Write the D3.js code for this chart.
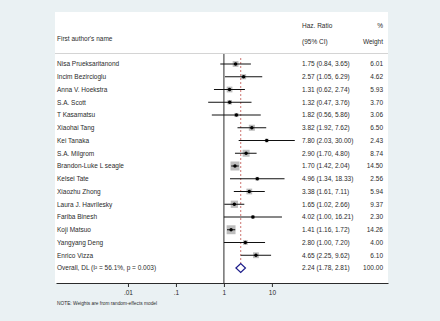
<!DOCTYPE html>
<html>
<head>
<meta charset="utf-8">
<script src="https://cdn.jsdelivr.net/npm/d3@7"></script>
<style>
  body { margin: 0; background: #eaf1f3; }
  svg { display: block; font-family: "Liberation Sans", Arial, sans-serif; }
</style>
</head>
<body>
<svg id="chart" width="440" height="321"></svg>
<script>
// study data
const authors = ["Nisa Prueksaritanond", "Incim Bezircioglu", "Anna V. Hoekstra", "S.A. Scott",
    "T Kasamatsu", "Xiaohai Tang", "Kei Tanaka", "S.A. Milgrom", "Brandon-Luke L seagle",
    "Kelsei Tate", "Xiaozhu Zhong", "Laura J. Havrilesky", "Fariba Binesh", "Koji Matsuo",
    "Yangyang Deng", "Enrico Vizza"];
const hr     = [1.75, 2.57, 1.31, 1.32, 1.82, 3.82, 7.80, 2.90, 1.70, 4.96, 3.38, 1.65, 4.02, 1.41, 2.80, 4.65];
const lower  = [0.84, 1.05, 0.62, 0.47, 0.56, 1.92, 2.03, 1.70, 1.42, 1.34, 1.61, 1.02, 1.00, 1.16, 1.00, 2.25];
const upper  = [3.65, 6.29, 2.74, 3.76, 5.86, 7.62, 30.00, 4.80, 2.04, 18.33, 7.11, 2.66, 16.21, 1.72, 7.20, 9.62];
const weight = [6.01, 4.62, 5.93, 3.70, 3.06, 6.50, 2.43, 8.74, 14.50, 2.56, 5.94, 9.37, 2.30, 14.26, 4.00, 6.10];

const overallLabel = "Overall, DL (I² = 56.1%, p = 0.003)";
const overall = { hr: 2.24, lo: 1.78, hi: 2.81, w: 100.00 };

const tickValues = [0.01, 0.1, 1, 10];
const tickLabels = [".01", ".1", "1", "10"];

const svg = d3.select("#chart");
const ink = "#2b2b2b";

const studies = authors.map(function(a, i){
    return { name: a, hr: hr[i], lo: lower[i], hi: upper[i], w: weight[i] };
});

const xScale = d3.scaleLog()
    .domain([Math.pow(10, -3.5), Math.pow(10, 3.42)])
    .range([56, 388]);

const yScale = d3.scalePoint()
    .domain(authors.concat([overallLabel]))
    .range([64, 268]);

const boxSize = d3.scaleSqrt().domain([0, 14.5]).range([0, 9]);

// white plot panel
svg.append("rect")
    .attr("x", 55).attr("y", 12)
    .attr("width", 333).attr("height", 271)
    .attr("fill", "#fff");

// headers
const hdr = svg.append("g").attr("fill", ink).attr("font-size", 6.5);
hdr.append("text").attr("x", 57).attr("y", 40.5).text("First author's name");
hdr.append("text").attr("x", 302).attr("y", 27.5).text("Haz. Ratio");
hdr.append("text").attr("x", 302).attr("y", 43.5).text("(95% CI)");
hdr.append("text").attr("x", 383).attr("y", 27.5).attr("text-anchor", "end").text("%");
hdr.append("text").attr("x", 383).attr("y", 43.5).attr("text-anchor", "end").text("Weight");

svg.append("line")
    .attr("x1", 55).attr("x2", 388)
    .attr("y1", 53.5).attr("y2", 53.5)
    .attr("stroke", "#d4d4d4").attr("stroke-width", 1);

// null line at HR = 1
svg.append("line")
    .attr("x1", xScale(1)).attr("x2", xScale(1))
    .attr("y1", 54).attr("y2", 283)
    .attr("stroke", ink).attr("stroke-width", 1);

// dashed line at pooled estimate
svg.append("line")
    .attr("x1", xScale(overall.hr)).attr("x2", xScale(overall.hr))
    .attr("y1", 58).attr("y2", yScale(overallLabel) - 4.5)
    .attr("stroke", "#c0504d").attr("stroke-width", 0.8)
    .attr("stroke-dasharray", "2,2");

// weight boxes
svg.selectAll(".box")
    .data(studies)
    .enter()
    .append("rect")
    .attr("class", "box")
    .attr("x", function(d){ return xScale(d.hr) - boxSize(d.w) / 2 })
    .attr("y", function(d){ return yScale(d.name) - boxSize(d.w) / 2 })
    .attr("width", function(d){ return boxSize(d.w) })
    .attr("height", function(d){ return boxSize(d.w) })
    .attr("fill", "#bdbdbd");

// confidence intervals
svg.selectAll(".ci")
    .data(studies)
    .enter()
    .append("line")
    .attr("class", "ci")
    .attr("x1", function(d){ return xScale(d.lo) })
    .attr("x2", function(d){ return xScale(d.hi) })
    .attr("y1", function(d){ return yScale(d.name) })
    .attr("y2", function(d){ return yScale(d.name) })
    .attr("stroke", "#111").attr("stroke-width", 1);

// point estimates
svg.selectAll(".dot")
    .data(studies)
    .enter()
    .append("circle")
    .attr("class", "dot")
    .attr("cx", function(d){ return xScale(d.hr) })
    .attr("cy", function(d){ return yScale(d.name) })
    .attr("r", 1.7)
    .attr("fill", "#000");

// pooled diamond
const oy = yScale(overallLabel);
svg.append("path")
    .attr("d", "M" + xScale(overall.lo) + "," + oy +
               "L" + xScale(overall.hr) + "," + (oy - 4.5) +
               "L" + xScale(overall.hi) + "," + oy +
               "L" + xScale(overall.hr) + "," + (oy + 4.5) + "Z")
    .attr("fill", "#fff")
    .attr("stroke", "#1c1c8a").attr("stroke-width", 1.2);

// row texts
const rows = svg.append("g").attr("fill", ink).attr("font-size", 6.5);
const allRows = studies.concat([{ name: overallLabel, hr: overall.hr, lo: overall.lo, hi: overall.hi, w: overall.w }]);

rows.selectAll(".name")
    .data(allRows)
    .enter()
    .append("text")
    .attr("x", 57)
    .attr("y", function(d){ return yScale(d.name) })
    .attr("dy", "0.35em")
    .text(function(d){ return d.name });

rows.selectAll(".est")
    .data(allRows)
    .enter()
    .append("text")
    .attr("x", 302)
    .attr("y", function(d){ return yScale(d.name) })
    .attr("dy", "0.35em")
    .text(function(d){ return d.hr.toFixed(2) + " (" + d.lo.toFixed(2) + ", " + d.hi.toFixed(2) + ")" });

rows.selectAll(".wt")
    .data(allRows)
    .enter()
    .append("text")
    .attr("x", 383)
    .attr("y", function(d){ return yScale(d.name) })
    .attr("dy", "0.35em")
    .attr("text-anchor", "end")
    .text(function(d){ return d.w.toFixed(2) });

// x axis
const axis = svg.append("g")
    .attr("transform", "translate(0,283)")
    .call(d3.axisBottom(xScale)
        .tickValues(tickValues)
        .tickFormat(function(d, i){ return tickLabels[i] })
        .tickSize(4)
        .tickSizeOuter(0));
axis.select(".domain").attr("stroke", ink);
axis.selectAll(".tick line").attr("stroke", ink);
axis.selectAll(".tick text")
    .attr("fill", ink)
    .attr("font-size", 6.5)
    .attr("font-family", "'Liberation Sans', Arial, sans-serif")
    .attr("y", 7);

svg.append("text")
    .attr("x", 57).attr("y", 305)
    .attr("font-size", 4.8)
    .attr("fill", ink)
    .text("NOTE: Weights are from random-effects model");
</script>
</body>
</html>
